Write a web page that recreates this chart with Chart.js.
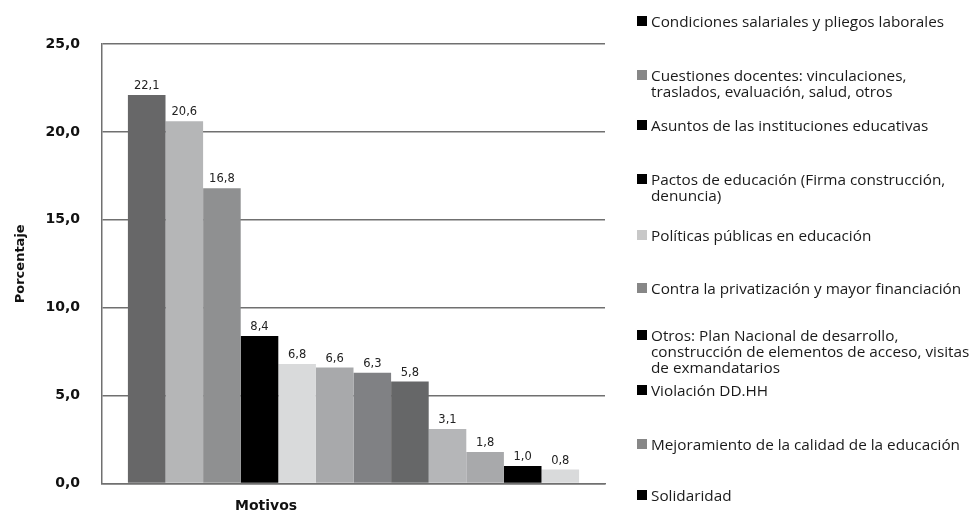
<!DOCTYPE html>
<html>
<head>
<meta charset="utf-8">
<script src="https://cdn.jsdelivr.net/npm/chart.js@4.4.1/dist/chart.umd.min.js"></script>
<style>
  html, body { margin: 0; padding: 0; background: #fff; }
  #wrap { position: relative; width: 972px; height: 514px; }
  #motivosChart { position: absolute; left: 0; top: 0; }
  .xtitle { position: absolute; left: 235px; top: 497px; font: bold 14px "DejaVu Sans", sans-serif; color: #111; }
  .item { position: absolute; left: 637px; padding-left: 14px; font-family: "Open Sans", sans-serif; font-size: 15.3px; line-height: 16px; color: #1a1a1a; white-space: nowrap; }
  .item i { position: absolute; left: 0; top: 3px; width: 10px; height: 10px; }
</style>
</head>
<body>
<div id="wrap">
  <canvas id="motivosChart" width="972" height="514"></canvas>
  <div class="xtitle">Motivos</div>
  <div id="legend"></div>
</div>
<script>
// bar values (percent), in drawing order
const values = [22.1, 20.6, 16.8, 8.4, 6.8, 6.6, 6.3, 5.8, 3.1, 1.8, 1.0, 0.8];
const barColors = ['#676768', '#b5b6b7', '#8f9091', '#000000', '#d9dadb', '#a8a9ab',
                   '#808184', '#666768', '#b5b6b8', '#a8a9ab', '#000000', '#d9dadb'];

// legend as printed next to the chart
const legendLabels = [
  ['Condiciones salariales y pliegos laborales'],
  ['Cuestiones docentes: vinculaciones,', 'traslados, evaluación, salud, otros'],
  ['Asuntos de las instituciones educativas'],
  ['Pactos de educación (Firma construcción,', 'denuncia)'],
  ['Políticas públicas en educación'],
  ['Contra la privatización y mayor financiación'],
  ['Otros: Plan Nacional de desarrollo,', 'construcción de elementos de acceso, visitas', 'de exmandatarios'],
  ['Violación DD.HH'],
  ['Mejoramiento de la calidad de la educación'],
  ['Solidaridad']
];
const legendColors = ['#000000', '#878787', '#000000', '#000000', '#c8c8c8',
                      '#878787', '#000000', '#000000', '#878787', '#000000'];
const legendTops = [13, 67, 117, 171, 227, 280, 327, 382, 436, 487];

const legendBox = document.getElementById('legend');
legendLabels.forEach((lines, i) => {
  const d = document.createElement('div');
  d.className = 'item';
  d.style.top = legendTops[i] + 'px';
  d.innerHTML = '<i style="background:' + legendColors[i] + '"></i>' + lines.join('<br>');
  legendBox.appendChild(d);
});

const fmt = v => v.toFixed(1).replace('.', ',');

const valueLabels = {
  id: 'valueLabels',
  afterDatasetsDraw(chart) {
    const ctx = chart.ctx;
    ctx.save();
    ctx.font = '11.5px "DejaVu Sans", sans-serif';
    ctx.fillStyle = '#222';
    ctx.textAlign = 'center';
    ctx.textBaseline = 'alphabetic';
    chart.data.datasets.forEach((ds, i) => {
      const bar = chart.getDatasetMeta(i).data[0];
      ctx.fillText(fmt(ds.data[0]), bar.x, bar.y - 6);
    });
    ctx.restore();
  }
};

const gridColor = '#707070';

new Chart(document.getElementById('motivosChart'), {
  type: 'bar',
  data: {
    labels: ['Motivos'],
    datasets: values.map((v, i) => ({
      label: 'Motivo ' + (i + 1),
      data: [v],
      backgroundColor: barColors[i],
      borderWidth: 0,
      barPercentage: 1,
      categoryPercentage: 0.897
    }))
  },
  options: {
    responsive: false,
    animation: false,
    layout: { padding: { top: 44, right: 367, left: 0, bottom: 0 } },
    plugins: { legend: { display: false }, tooltip: { enabled: false } },
    scales: {
      x: {
        ticks: { display: false },
        grid: { display: false, drawTicks: false },
        border: { display: true, color: gridColor, width: 1.5 },
        afterFit: s => { s.height = 28; }
      },
      y: {
        min: 0,
        max: 25,
        ticks: {
          stepSize: 5,
          padding: 22,
          color: '#111',
          font: { family: 'DejaVu Sans', size: 14, weight: 'bold' },
          callback: v => fmt(v)
        },
        grid: { color: gridColor, lineWidth: 1.5, drawTicks: false },
        border: { display: true, color: gridColor, width: 1.5 },
        title: {
          display: true,
          text: 'Porcentaje',
          color: '#111',
          font: { family: 'DejaVu Sans', size: 13, weight: 'bold' },
          padding: { top: 13, bottom: 0 }
        },
        afterFit: s => { s.width = 102; }
      }
    }
  },
  plugins: [valueLabels]
});
</script>
</body>
</html>
